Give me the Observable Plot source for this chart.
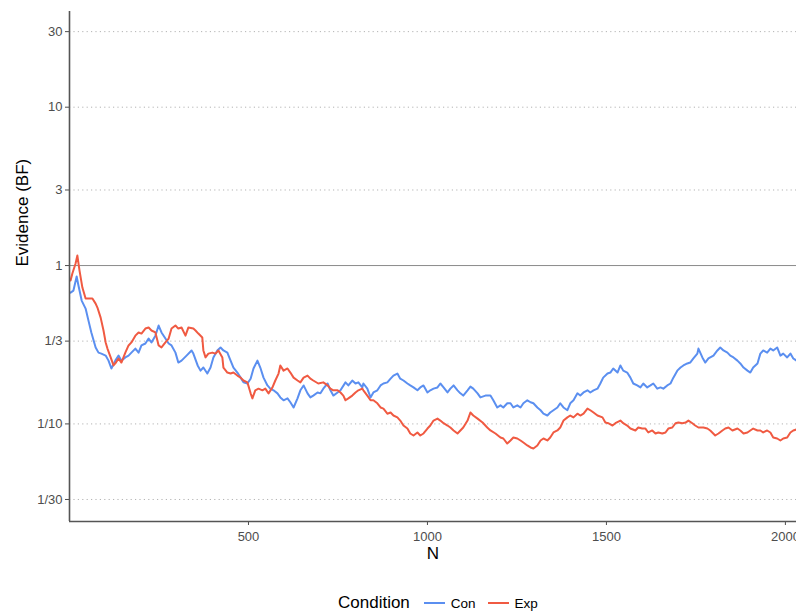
<!DOCTYPE html>
<html>
<head>
<meta charset="utf-8">
<script src="https://cdn.jsdelivr.net/npm/d3@7"></script>
<script src="https://cdn.jsdelivr.net/npm/@observablehq/plot@0.6"></script>
<style>
  html, body { margin: 0; padding: 0; background: #fff; }
  #chart { width: 796px; font-family: "Liberation Sans", Arial, sans-serif; }
  #legend { position: relative; height: 47px; width: 796px; }
  #legend .row { position: absolute; left: 338px; top: 28px; height: 20px; display: flex; align-items: center; }
  #legend .title { font-size: 17px; color: #000; margin-right: 14px; }
  #legend .key { display: inline-block; width: 21px; height: 2px; margin-right: 6px; }
  #legend .lab { font-size: 13.5px; color: #000; margin-right: 12px; }
</style>
</head>
<body>
<div id="chart"></div>
<script>
// Sequential Bayes factor for each condition, by sample size N
const conN = [3,11,20,25,34,45,53,61,73,81,89,101,109,117,128,137,145,156,165,173,
  184,193,201,212,221,229,240,249,257,268,277,285,296,304,313,327,341,346,358,366,
  374,385,394,402,413,422,430,441,450,458,469,478,486,497,506,514,525,533,542,553,
  561,570,581,589,598,609,617,626,637,645,654,665,673,681,693,701,709,721,729,737,
  749,757,771,779,790,799,807,818,821,832,841,849,860,869,877,888,897,905,916,924,
  933,944,952,961,972,980,989,1000,1008,1017,1028,1036,1045,1056,1064,1073,1084,1092,1100,1112,
  1120,1128,1140,1148,1162,1176,1184,1195,1204,1212,1223,1232,1240,1251,1260,1268,1279,1288,1296,1307,
  1316,1324,1335,1343,1352,1363,1371,1380,1391,1399,1408,1419,1427,1436,1447,1455,1464,1475,1483,1491,
  1503,1511,1519,1531,1539,1547,1558,1567,1575,1586,1595,1603,1614,1623,1631,1642,1651,1659,1670,1679,
  1687,1698,1707,1715,1726,1734,1743,1754,1757,1768,1776,1785,1799,1810,1818,1827,1838,1846,1855,1866,
  1874,1883,1894,1902,1910,1922,1930,1938,1949,1958,1966,1977,1986,1994,2005,2014,2022,2031];
const conBF = [0.675,0.695,0.852,0.748,0.601,0.535,0.449,0.378,0.304,0.282,
  0.278,0.270,0.251,0.224,0.251,0.270,0.251,0.263,0.270,0.282,
  0.299,0.282,0.313,0.322,0.346,0.327,0.361,0.418,0.378,0.346,
  0.322,0.313,0.282,0.244,0.251,0.270,0.291,0.278,0.234,0.217,
  0.227,0.208,0.227,0.263,0.291,0.304,0.291,0.282,0.251,0.227,
  0.211,0.196,0.183,0.180,0.193,0.224,0.251,0.227,0.196,0.175,
  0.167,0.163,0.156,0.147,0.141,0.145,0.137,0.127,0.145,0.163,
  0.175,0.156,0.147,0.151,0.158,0.156,0.167,0.180,0.163,0.151,
  0.158,0.163,0.183,0.175,0.188,0.180,0.183,0.170,0.180,0.167,
  0.147,0.158,0.163,0.175,0.180,0.183,0.193,0.202,0.208,0.193,
  0.188,0.180,0.175,0.170,0.163,0.170,0.175,0.158,0.163,0.167,
  0.170,0.180,0.170,0.158,0.167,0.175,0.163,0.156,0.151,0.163,
  0.172,0.167,0.156,0.147,0.151,0.151,0.141,0.127,0.131,0.127,
  0.135,0.135,0.127,0.131,0.127,0.135,0.141,0.137,0.135,0.127,
  0.122,0.116,0.113,0.118,0.122,0.127,0.135,0.127,0.122,0.135,
  0.141,0.156,0.151,0.158,0.163,0.158,0.163,0.167,0.180,0.196,
  0.208,0.211,0.224,0.211,0.234,0.217,0.211,0.196,0.180,0.175,
  0.170,0.180,0.170,0.175,0.180,0.167,0.170,0.167,0.175,0.180,
  0.196,0.217,0.227,0.234,0.241,0.244,0.259,0.278,0.299,0.263,
  0.244,0.259,0.270,0.291,0.304,0.291,0.282,0.270,0.263,0.251,
  0.241,0.227,0.217,0.211,0.227,0.241,0.278,0.291,0.282,0.299,
  0.291,0.304,0.270,0.278,0.263,0.278,0.259,0.251];

const expN = [3,8,17,22,28,36,45,53,64,73,78,87,95,101,106,115,123,128,137,145,
  156,165,173,184,193,201,212,221,229,240,249,257,268,277,285,296,304,313,324,332,
  346,352,360,371,374,380,388,399,408,416,427,430,441,450,458,469,478,486,497,506,
  511,519,528,539,547,556,567,575,584,589,598,609,617,626,637,645,654,665,673,681,
  695,709,721,729,737,749,757,765,771,779,790,799,807,818,821,832,841,849,860,869,
  877,888,897,905,916,924,933,944,952,961,972,980,989,1000,1008,1017,1028,1036,1045,1056,
  1064,1073,1084,1092,1100,1112,1120,1128,1140,1154,1167,1176,1190,1204,1212,1223,1232,1240,1251,1260,
  1268,1279,1288,1296,1307,1316,1324,1335,1343,1352,1363,1371,1380,1391,1399,1408,1419,1427,1436,1447,
  1455,1464,1475,1489,1497,1505,1517,1525,1539,1547,1558,1567,1581,1589,1600,1609,1617,1628,1637,1645,
  1656,1665,1673,1684,1693,1701,1712,1721,1729,1740,1748,1757,1771,1782,1790,1804,1813,1824,1832,1841,
  1852,1866,1874,1883,1894,1902,1910,1922,1930,1938,1949,1958,1966,1977,1986,1994,2005,2014,2022,2031];
const expBF = [0.804,0.890,1.030,1.156,0.930,0.726,0.619,0.619,0.619,0.575,
  0.543,0.469,0.389,0.327,0.299,0.263,0.234,0.241,0.259,0.244,
  0.282,0.313,0.327,0.361,0.378,0.372,0.400,0.406,0.389,0.378,
  0.313,0.304,0.327,0.346,0.400,0.418,0.400,0.406,0.361,0.406,
  0.400,0.389,0.372,0.351,0.291,0.263,0.278,0.282,0.278,0.291,
  0.263,0.227,0.211,0.208,0.211,0.202,0.196,0.188,0.183,0.156,
  0.145,0.163,0.167,0.163,0.167,0.156,0.170,0.188,0.208,0.234,
  0.217,0.224,0.211,0.196,0.188,0.183,0.196,0.202,0.193,0.188,
  0.180,0.183,0.175,0.167,0.163,0.163,0.158,0.151,0.141,0.145,
  0.151,0.158,0.163,0.167,0.163,0.151,0.141,0.141,0.135,0.127,
  0.125,0.116,0.118,0.113,0.110,0.105,0.0977,0.0935,0.0870,0.0845,
  0.0883,0.0845,0.0870,0.0935,0.0977,0.105,0.108,0.105,0.101,0.0977,
  0.0949,0.0909,0.0870,0.0909,0.0949,0.105,0.118,0.113,0.108,0.102,
  0.0949,0.0909,0.0870,0.0820,0.0809,0.0752,0.0786,0.0820,0.0809,0.0786,
  0.0763,0.0731,0.0710,0.0700,0.0731,0.0786,0.0809,0.0786,0.0820,0.0883,
  0.0909,0.0949,0.105,0.110,0.113,0.110,0.116,0.113,0.116,0.125,
  0.122,0.118,0.113,0.110,0.102,0.101,0.0977,0.101,0.105,0.101,
  0.0977,0.0935,0.0909,0.0949,0.0935,0.0935,0.0883,0.0909,0.0870,0.0883,
  0.0870,0.0883,0.0935,0.0949,0.101,0.102,0.101,0.102,0.105,0.101,
  0.0977,0.0949,0.0949,0.0935,0.0909,0.0845,0.0870,0.0909,0.0935,0.0949,
  0.0909,0.0935,0.0909,0.0870,0.0883,0.0909,0.0935,0.0909,0.0909,0.0883,
  0.0909,0.0883,0.0820,0.0809,0.0786,0.0809,0.0820,0.0883,0.0909,0.0922];

const conditions = ["Con", "Exp"];
const colors = ["#5b8ff0", "#f05a42"];

const xTicks = [500, 1000, 1500, 2000];
const yTicks = [1/30, 1/10, 1/3, 1, 3, 10, 30];
const yTickLabels = ["1/30", "1/10", "1/3", "1", "3", "10", "30"];
const gridLevels = [1/30, 1/10, 1/3, 3, 10, 30];
const refLevel = 1;

const xDomain = [0, 2031];
const yDomain = [0.0242, 40.2];

const rows = [
  ...conN.map((n, i) => ({condition: "Con", n, bf: conBF[i]})),
  ...expN.map((n, i) => ({condition: "Exp", n, bf: expBF[i]}))
];

const labelFor = new Map(yTicks.map((v, i) => [v, yTickLabels[i]]));

const chart = Plot.plot({
  width: 796,
  height: 565,
  marginLeft: 69,
  marginRight: 0,
  marginTop: 11,
  marginBottom: 44,
  style: {fontFamily: "'Liberation Sans', Arial, sans-serif", fontSize: "13px", color: "#4d4d4d", background: "#fff"},
  x: {domain: xDomain, ticks: xTicks, tickFormat: d => String(d), tickSize: 4, tickPadding: 6, label: null},
  y: {type: "log", domain: yDomain, ticks: yTicks, tickFormat: d => labelFor.get(d), tickSize: 4, tickPadding: 3, label: null},
  color: {domain: conditions, range: colors},
  marks: [
    Plot.ruleY(gridLevels, {stroke: "#b3b3b3", strokeWidth: 1, strokeDasharray: "1.2,3.2"}),
    Plot.ruleY([refLevel], {stroke: "#8a8a8a", strokeWidth: 1}),
    Plot.line(rows, {x: "n", y: "bf", z: "condition", stroke: "condition", strokeWidth: 2, clip: true}),
    Plot.ruleX([xDomain[0]], {stroke: "#555", strokeWidth: 1.6}),
    Plot.ruleY([yDomain[0]], {stroke: "#555", strokeWidth: 1.6}),
    Plot.text(["N"], {frameAnchor: "bottom", dy: 37, fontSize: 17, fill: "#000"}),
    Plot.text(["Evidence (BF)"], {frameAnchor: "left", dx: -47, rotate: -90, fontSize: 17, fill: "#000"})
  ]
});

const root = document.getElementById("chart");
root.appendChild(chart);

// Legend below the plot
const legend = document.createElement("div");
legend.id = "legend";
const row = document.createElement("div");
row.className = "row";
const title = document.createElement("span");
title.className = "title";
title.textContent = "Condition";
row.appendChild(title);
conditions.forEach((c, i) => {
  const key = document.createElement("span");
  key.className = "key";
  key.style.background = colors[i];
  row.appendChild(key);
  const lab = document.createElement("span");
  lab.className = "lab";
  lab.textContent = c;
  row.appendChild(lab);
});
legend.appendChild(row);
root.appendChild(legend);
</script>
</body>
</html>
